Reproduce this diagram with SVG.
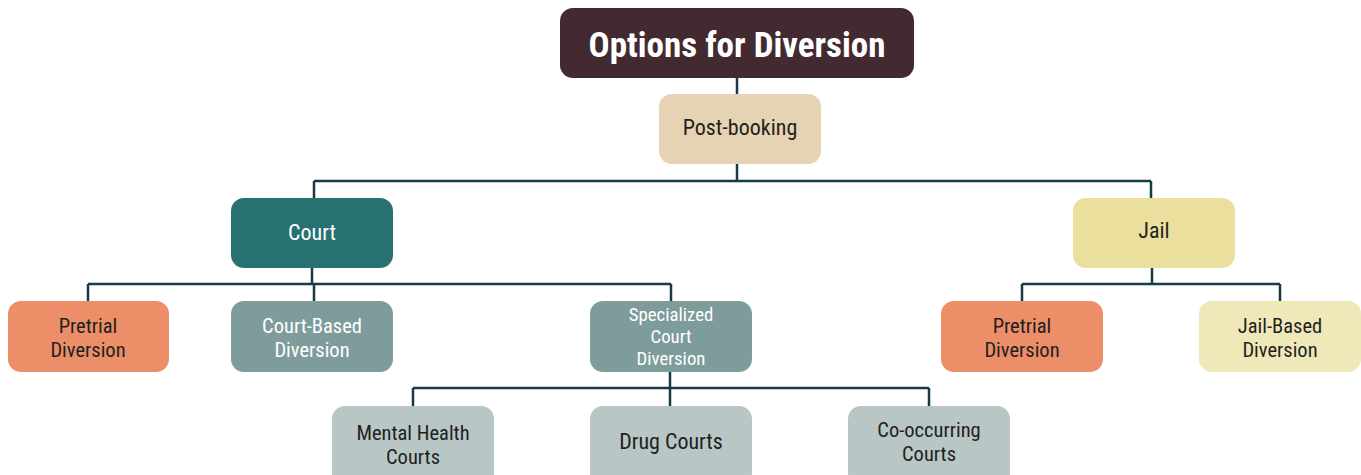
<svg xmlns="http://www.w3.org/2000/svg" width="1361" height="475" viewBox="0 0 1361 475">
<style>
.t{font-family:"Liberation Sans Narrow","Roboto Condensed","Liberation Sans",Arial,sans-serif;font-size:22px;text-anchor:middle;fill:#231f20}
.m{font-size:20.5px}
.w{fill:#ffffff}
.s{font-size:18.8px}
.c{fill:none;stroke:#173b45;stroke-width:2.5}
</style>
<rect width="1361" height="475" fill="#ffffff"/>
<g id="connectors">
<path class="c" d="M737 78V94M737 164V181M314 181H1151M314 181V198M1151 181V198"/>
<path class="c" d="M312 268V284M88 284H671M88 284V301M314 284V301M671 284V301"/>
<path class="c" d="M670 372V388M413 388H929M413 388V406M670 388V406M929 388V406"/>
<path class="c" d="M1152 268V284M1022 284H1280M1022 284V301M1280 284V301"/>
</g>
<g id="title"><rect x="560" y="8" width="354" height="70" rx="13" fill="#432a30"/><text class="t w" x="737" y="57" style="font-size:35px;font-weight:bold">Options for Diversion</text></g>
<g id="postbooking"><rect x="659" y="94" width="162" height="70" rx="13" fill="#e5d3b3"/><text class="t" x="740" y="135">Post-booking</text></g>
<g id="court"><rect x="231" y="198" width="162" height="70" rx="13" fill="#277270"/><text class="t w" x="312" y="240">Court</text></g>
<g id="jail"><rect x="1073" y="198" width="162" height="70" rx="13" fill="#ebdf9d"/><text class="t" x="1154" y="238">Jail</text></g>
<g id="pretrial1"><rect x="8" y="301" width="161" height="71" rx="13" fill="#ec8e68"/><text class="t m" x="88" y="333">Pretrial<tspan x="88" dy="24">Diversion</tspan></text></g>
<g id="courtbased"><rect x="231" y="301" width="162" height="71" rx="13" fill="#7e9c9b"/><text class="t m w" x="312" y="333">Court-Based<tspan x="312" dy="24">Diversion</tspan></text></g>
<g id="specialized"><rect x="590" y="301" width="162" height="71" rx="13" fill="#7e9c9b"/><text class="t w s" x="671" y="321">Specialized<tspan x="671" dy="22">Court</tspan><tspan x="671" dy="22">Diversion</tspan></text></g>
<g id="pretrial2"><rect x="941" y="301" width="162" height="71" rx="13" fill="#ec8e68"/><text class="t m" x="1022" y="333">Pretrial<tspan x="1022" dy="24">Diversion</tspan></text></g>
<g id="jailbased"><rect x="1199" y="301" width="162" height="71" rx="13" fill="#efe8b8"/><text class="t m" x="1280" y="333">Jail-Based<tspan x="1280" dy="24">Diversion</tspan></text></g>
<g id="mentalhealth"><rect x="332" y="406" width="162" height="80" rx="13" fill="#b8c6c6"/><text class="t m" x="413" y="440">Mental Health<tspan x="413" dy="24">Courts</tspan></text></g>
<g id="drug"><rect x="590" y="406" width="162" height="80" rx="13" fill="#b8c6c6"/><text class="t" x="671" y="449">Drug Courts</text></g>
<g id="cooccurring"><rect x="848" y="406" width="162" height="80" rx="13" fill="#b8c6c6"/><text class="t m" x="929" y="437">Co-occurring<tspan x="929" dy="24">Courts</tspan></text></g>
</svg>
